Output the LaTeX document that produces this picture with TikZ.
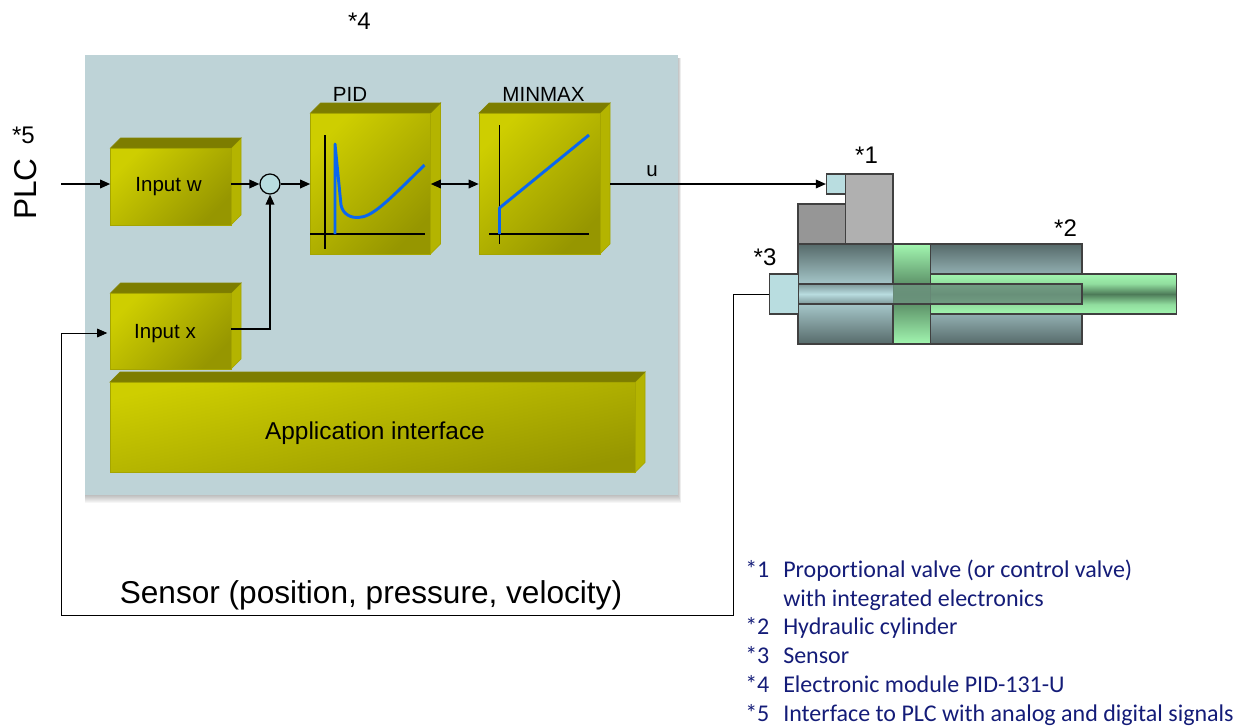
\documentclass[tikz,border=0pt]{standalone}
\usepackage{fontspec}
\setmainfont{Liberation Sans}
\newfontfamily\listfont[Ligatures=NoCommon]{Carlito}
\usetikzlibrary{arrows.meta,calc}
\definecolor{panel}{HTML}{BED3D7}
\definecolor{ylight}{HTML}{CECE00}
\definecolor{ydark}{HTML}{969600}
\definecolor{ytop}{HTML}{7D7D00}
\definecolor{yside}{HTML}{B4B400}
\definecolor{yedge}{HTML}{A5A500}
\definecolor{cyl}{HTML}{566A6A}
\definecolor{cylb}{HTML}{B9DDE0}
\definecolor{gl}{HTML}{A2F6B0}
\definecolor{gd}{HTML}{4D7B58}
\definecolor{navy}{HTML}{141C78}
\definecolor{curve}{HTML}{0A66F0}
\pgfdeclareverticalshading{rodshade}{100bp}{color(0bp)=(gl); color(25bp)=(gl); color(37bp)=(gl!80!gd); color(50bp)=(gd); color(63bp)=(gl!80!gd); color(75bp)=(gl); color(100bp)=(gl)}
\tikzset{
  x=0.75pt,y=-0.75pt,
  headed/.style={-{Triangle[length=7.5pt,width=6.5pt]}},
  conn/.style={line width=0.95pt,headed},
  loop/.style={line width=0.7pt,headed},
  axisline/.style={line width=0.85pt},
  bluecurve/.style={line width=2.2pt,color=curve,line join=round},
  face/.style={inner sep=0pt,draw=yedge,line width=0.5pt,shade,top color=ylight,bottom color=ydark,shading angle=45},
  part/.style={inner sep=0pt,draw=black!75,line width=0.9pt},
  txa/.style={inner sep=0pt,font=\fontsize{15.4}{18}\selectfont},
  txb/.style={inner sep=0pt,font=\fontsize{18.3}{22}\selectfont},
  txc/.style={inner sep=0pt,font=\fontsize{23.7}{28}\selectfont},
  star/.style={inner sep=0pt,font=\fontsize{18}{21}\selectfont},
  lst/.style={inner sep=0pt,anchor=base west,text=navy,font=\listfont\fontsize{18}{22}\selectfont},
}
% name, x1,y1,x2,y2, shading angle
\newcommand{\yblock}[6]{%
  \fill[yside,draw=yedge,line width=0.5pt] (#4,#3) -- (#4+10,#3-10) -- (#4+10,#5-10) -- (#4,#5) -- cycle;
  \fill[ytop,draw=yedge!80!black,line width=0.5pt] (#2,#3) -- (#2+10,#3-10) -- (#4+10,#3-10) -- (#4,#3) -- cycle;
  \node[face,shading angle=#6,minimum width={(#4-#2)*0.75pt},minimum height={(#5-#3)*0.75pt}] (#1) at ({(#2+#4)/2},{(#3+#5)/2}) {};
  \coordinate (#1side) at ([xshift=7.5pt]#1.east);
}
\begin{document}
\begin{tikzpicture}
\useasboundingbox (0,0) rectangle (1239,725);
% panel with soft shadow
\foreach \d in {8,7,6,5,4,3,2,1}{
  \fill[black,opacity=.035] (85,58) rectangle (678+\d*0.4,495+\d);
}
\node[inner sep=0pt,fill=panel,minimum width={593*0.75pt},minimum height={440*0.75pt}] (panel) at (381.5,275) {};

\yblock{inw}{110.5}{148}{231}{225}{45}
\yblock{inx}{110.5}{293}{231}{369}{45}
\yblock{pid}{310.5}{113}{430.5}{254}{45}
\yblock{minmax}{479}{113}{600}{254}{45}
\yblock{app}{110}{382}{635}{472.5}{12}

\node[txa] (tinw) at (168.5,186.5) {Input w};
\node[txa] (tinx) at (165,333.5) {Input x};
\node[txb] (tapp) at (375,433.5) {Application interface};
\node[txa] (tpid) at (350,94.5) {PID};
\node[txa] (tminmax) at (543.5,94.5) {MINMAX};
\node[txa] (tu) at (652,171) {u};
\node[txc] (tsensor) at (371,595.5) {Sensor (position, pressure, velocity)};
\node[txc,rotate=90] (tplc) at (26,189) {PLC};
\node[star] (s4) at (359.5,21) {*4};
\node[star] (s5) at (23.5,135) {*5};
\node[star] (s1) at (866.5,155) {*1};
\node[star] (s2) at (1065.5,228) {*2};
\node[star] (s3) at (765,257.5) {*3};

% curves in the blocks
\draw[axisline] (325,135) -- (325,249);
\draw[axisline] (310,234) -- (424.5,234);
\draw[bluecurve] (335,234) -- (335,144) -- (341,205) .. controls (343,215) and (352,218) .. (358,217.5) .. controls (372,217) and (385,204) .. (424.5,165);
\draw[axisline] (499.5,125) -- (499.5,244);
\draw[axisline] (489,234) -- (589,234);
\draw[bluecurve] (499.5,234) -- (499.5,208) -- (589,135);

% actuator
\node[part,fill=black!41,minimum width={47.5*0.75pt},minimum height={40*0.75pt}] (valvedark) at (821.75,224) {};
\node[part,fill=black!31,minimum width={47.5*0.75pt},minimum height={70*0.75pt}] (valve) at (869.25,209) {};
\node[part,fill=cylb,minimum width={19*0.75pt},minimum height={20*0.75pt}] (coil) at (836,184) {};
\node[part,shade,top color=cyl,bottom color=cyl,middle color=cylb,minimum width={284*0.75pt},minimum height={100*0.75pt}] (body) at (940,294) {};
\node[part,shade,shading=rodshade,minimum width={246*0.75pt},minimum height={40*0.75pt}] (rod) at (1053.5,294) {};
\node[part,shade,top color=gl,bottom color=gl,middle color=gd,minimum width={37.5*0.75pt},minimum height={100*0.75pt}] (piston) at (911.75,294) {};
\node[inner sep=0pt,shade,top color=cyl!60!cylb,bottom color=cyl!60!cylb,middle color=cylb,minimum width={95*0.75pt},minimum height={20*0.75pt}] (tubeleft) at (845.5,294) {};
\node[inner sep=0pt,fill=cyl!70!gl,opacity=.85,minimum width={189*0.75pt},minimum height={20*0.75pt}] (tuberight) at (987.5,294) {};
\node[part,minimum width={284*0.75pt},minimum height={20*0.75pt}] (tube) at (940,294) {};
\node[part,fill=cylb,minimum width={28.5*0.75pt},minimum height={40*0.75pt}] (sensor) at (784,294) {};

% connectors
\node[circle,inner sep=0pt,draw=black,line width=0.9pt,fill=cylb,minimum size={20*0.75pt}] (sum) at (270,184) {};
\coordinate (plcin) at (61,184);
\coordinate (c1) at (61,333);
\coordinate (c2) at (61,615);
\coordinate (c3) at (733,615);
\coordinate (c4) at (733,294);
\draw[conn] (plcin) -- (inw.west |- sum);
\draw[conn] (inw.east |- sum) -- (sum.west);
\draw[conn] (sum.east) -- (pid.west |- sum);
\draw[line width=0.95pt,{Triangle[length=7.5pt,width=6.5pt]}-{Triangle[length=7.5pt,width=6.5pt]}] (pid.east |- sum) -- (minmax.west |- sum);
\draw[conn] (minmaxside |- sum) -- (coil.west);
\draw[conn] ([yshift=1.6pt]inx.east) -| (sum.south);
\draw[loop] (sensor.west) -- (c4) -- (c3) -- (c2) -- (c1) -- ([xshift=-2.2pt]inx.west |- c1);

% legend
\node[lst] (l1a) at (745,577) {*1};
\node[lst] (l1) at (783,577) {Proportional valve (or control valve)};
\node[lst] (l1b) at (783,606) {with integrated electronics};
\node[lst] (l2a) at (745,634) {*2};
\node[lst] (l2) at (783,634) {Hydraulic cylinder};
\node[lst] (l3a) at (745,663) {*3};
\node[lst] (l3) at (783,663) {Sensor};
\node[lst] (l4a) at (745,692) {*4};
\node[lst] (l4) at (783,692) {Electronic module PID-131-U};
\node[lst] (l5a) at (745,721) {*5};
\node[lst] (l5) at (783,721) {Interface to PLC with analog and digital signals};
\end{tikzpicture}
\end{document}
